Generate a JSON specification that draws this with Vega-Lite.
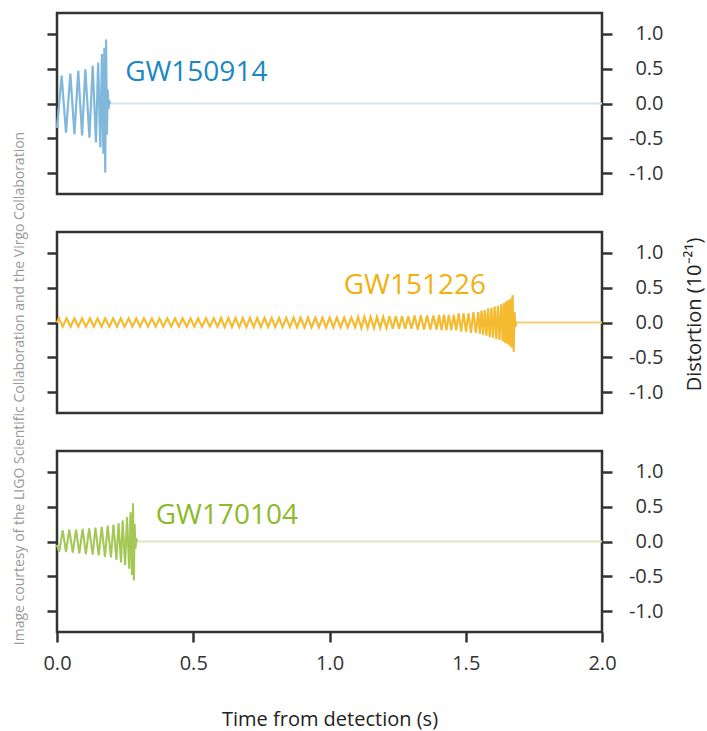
{
  "$schema": "https://vega.github.io/schema/vega-lite/v6.json",
  "padding": {"left": 10, "top": 11, "right": 0, "bottom": 0},
  "background": "white",
  "bounds": "flush",
  "spacing": 38,
  "config": {
    "view": {"stroke": "#333333", "strokeWidth": 2.5},
    "axis": {"tickColor": "#333333", "tickWidth": 2.5, "domain": false, "grid": false, "labelFont": "Open Sans", "labelFontSize": 20, "labelColor": "#333333", "titleFont": "Open Sans", "titleFontWeight": "normal", "titleFontSize": 20, "titleColor": "#222222", "labelFlush": false, "labelExpr": "replace(datum.label, '−', '-')"}
  },
  "datasets": {
    "w1": [{"t":0,"h":-0.35},{"t":0.017,"h":0.4},{"t":0.033,"h":-0.42},{"t":0.049,"h":0.43},{"t":0.064,"h":-0.44},{"t":0.078,"h":0.47},{"t":0.092,"h":-0.46},{"t":0.104,"h":0.49},{"t":0.119,"h":-0.49},{"t":0.131,"h":0.54},{"t":0.143,"h":-0.56},{"t":0.151,"h":0.59},{"t":0.159,"h":-0.63},{"t":0.165,"h":0.71},{"t":0.17,"h":-0.72},{"t":0.174,"h":0.8},{"t":0.177,"h":-0.99},{"t":0.18,"h":0.92},{"t":0.183,"h":-0.45},{"t":0.186,"h":0.2},{"t":0.189,"h":-0.08},{"t":0.192,"h":0.03},{"t":0.196,"h":0},{"t":2,"h":0}],
    "w2": [{"t":0,"h":0},
{"t":0.007,"h":0.06},{"t":0.021,"h":-0.06},{"t":0.035,"h":0.06},{"t":0.05,"h":-0.06},{"t":0.064,"h":0.06},{"t":0.078,"h":-0.06},{"t":0.092,"h":0.06},{"t":0.106,"h":-0.06},{"t":0.121,"h":0.06},{"t":0.135,"h":-0.06},{"t":0.149,"h":0.06},{"t":0.163,"h":-0.06},{"t":0.177,"h":0.06},{"t":0.192,"h":-0.06},{"t":0.206,"h":0.06},{"t":0.22,"h":-0.06},{"t":0.234,"h":0.06},{"t":0.248,"h":-0.06},{"t":0.263,"h":0.06},{"t":0.277,"h":-0.06},{"t":0.291,"h":0.06},{"t":0.305,"h":-0.06},{"t":0.319,"h":0.06},{"t":0.334,"h":-0.06},{"t":0.348,"h":0.06},{"t":0.362,"h":-0.06},{"t":0.376,"h":0.06},{"t":0.39,"h":-0.06},{"t":0.405,"h":0.06},{"t":0.419,"h":-0.06},{"t":0.433,"h":0.06},{"t":0.447,"h":-0.06},{"t":0.461,"h":0.06},{"t":0.476,"h":-0.06},{"t":0.49,"h":0.06},{"t":0.504,"h":-0.06},{"t":0.518,"h":0.06},{"t":0.532,"h":-0.06},{"t":0.547,"h":0.06},{"t":0.561,"h":-0.06},{"t":0.575,"h":0.06},{"t":0.589,"h":-0.06},
{"t":0.602,"h":0.065},{"t":0.615,"h":-0.065},{"t":0.629,"h":0.065},{"t":0.642,"h":-0.065},{"t":0.655,"h":0.065},{"t":0.669,"h":-0.065},{"t":0.682,"h":0.065},{"t":0.695,"h":-0.065},{"t":0.708,"h":0.065},{"t":0.722,"h":-0.065},{"t":0.735,"h":0.065},{"t":0.748,"h":-0.065},{"t":0.762,"h":0.065},{"t":0.775,"h":-0.065},{"t":0.788,"h":0.065},{"t":0.801,"h":-0.065},{"t":0.815,"h":0.065},{"t":0.828,"h":-0.065},{"t":0.841,"h":0.065},{"t":0.855,"h":-0.065},
{"t":0.868,"h":0.07},{"t":0.881,"h":-0.07},{"t":0.894,"h":0.07},{"t":0.908,"h":-0.07},{"t":0.921,"h":0.07},{"t":0.934,"h":-0.07},{"t":0.948,"h":0.07},{"t":0.961,"h":-0.07},{"t":0.974,"h":0.07},{"t":0.987,"h":-0.07},{"t":1.001,"h":0.07},{"t":1.014,"h":-0.07},{"t":1.027,"h":0.07},{"t":1.041,"h":-0.07},{"t":1.054,"h":0.07},{"t":1.067,"h":-0.07},{"t":1.08,"h":0.07},{"t":1.094,"h":-0.07},
{"t":1.105,"h":0.08},{"t":1.117,"h":-0.08},{"t":1.128,"h":0.08},{"t":1.14,"h":-0.08},{"t":1.151,"h":0.08},{"t":1.163,"h":-0.08},{"t":1.174,"h":0.08},{"t":1.186,"h":-0.08},{"t":1.197,"h":0.08},{"t":1.209,"h":-0.08},
{"t":1.22,"h":0.09},{"t":1.232,"h":-0.09},{"t":1.243,"h":0.09},{"t":1.255,"h":-0.09},{"t":1.266,"h":0.09},{"t":1.278,"h":-0.09},{"t":1.289,"h":0.09},{"t":1.301,"h":-0.09},
{"t":1.312,"h":0.1},{"t":1.324,"h":-0.1},{"t":1.335,"h":0.1},{"t":1.347,"h":-0.1},{"t":1.358,"h":0.1},{"t":1.37,"h":-0.1},{"t":1.381,"h":0.1},{"t":1.393,"h":-0.1},
{"t":1.402,"h":0.11},{"t":1.411,"h":-0.11},{"t":1.42,"h":0.11},{"t":1.429,"h":-0.11},{"t":1.438,"h":0.11},{"t":1.447,"h":-0.11},{"t":1.456,"h":0.11},{"t":1.465,"h":-0.11},
{"t":1.474,"h":0.13},{"t":1.483,"h":-0.13},{"t":1.492,"h":0.13},{"t":1.501,"h":-0.13},{"t":1.51,"h":0.13},
{"t":1.519,"h":-0.15},{"t":1.528,"h":0.15},{"t":1.537,"h":-0.15},{"t":1.546,"h":0.15},
{"t":1.552,"h":-0.16},{"t":1.558,"h":0.17},{"t":1.564,"h":-0.18},{"t":1.57,"h":0.18},{"t":1.576,"h":-0.19},{"t":1.582,"h":0.2},{"t":1.588,"h":-0.21},{"t":1.594,"h":0.21},{"t":1.6,"h":-0.22},{"t":1.606,"h":0.23},{"t":1.612,"h":-0.24},{"t":1.618,"h":0.24},{"t":1.624,"h":-0.25},{"t":1.63,"h":0.26},{"t":1.636,"h":-0.27},
{"t":1.64,"h":0.28},{"t":1.644,"h":-0.29},{"t":1.648,"h":0.3},{"t":1.652,"h":-0.31},{"t":1.656,"h":0.32},{"t":1.66,"h":-0.33},{"t":1.664,"h":0.34},{"t":1.668,"h":-0.36},{"t":1.672,"h":0.39},{"t":1.676,"h":-0.42},{"t":1.679,"h":0.15},{"t":1.682,"h":-0.06},{"t":1.686,"h":0},{"t":2,"h":0}],
    "w3": [{"t":0,"h":-0.05},{"t":0.008,"h":-0.15},{"t":0.021,"h":0.16},{"t":0.033,"h":-0.15},{"t":0.045,"h":0.17},{"t":0.058,"h":-0.16},{"t":0.07,"h":0.17},{"t":0.082,"h":-0.17},{"t":0.094,"h":0.18},{"t":0.106,"h":-0.18},{"t":0.118,"h":0.19},{"t":0.131,"h":-0.19},{"t":0.141,"h":0.2},{"t":0.153,"h":-0.2},{"t":0.164,"h":0.21},{"t":0.176,"h":-0.22},{"t":0.186,"h":0.23},{"t":0.198,"h":-0.23},{"t":0.207,"h":0.24},{"t":0.218,"h":-0.26},{"t":0.226,"h":0.26},{"t":0.235,"h":-0.3},{"t":0.241,"h":0.3},{"t":0.25,"h":-0.34},{"t":0.257,"h":0.35},{"t":0.265,"h":-0.39},{"t":0.27,"h":0.42},{"t":0.275,"h":-0.48},{"t":0.279,"h":0.55},{"t":0.282,"h":-0.56},{"t":0.285,"h":0.25},{"t":0.288,"h":-0.1},{"t":0.291,"h":0.03},{"t":0.295,"h":0},{"t":2,"h":0}],
    "labels": [{"panel":1,"t":0.25,"h":0.445,"label":"GW150914"},{"panel":2,"t":1.052,"h":0.53,"label":"GW151226"},{"panel":3,"t":0.362,"h":0.37,"label":"GW170104"}]
  },
  "vconcat": [
    {
      "width": 545, "height": 181,
      "layer": [
        {"data": {"name": "w1"}, "mark": {"type": "line", "color": "#d2e5f1", "strokeWidth": 2},
         "encoding": {
           "x": {"field": "t", "type": "quantitative", "scale": {"domain": [0, 2], "nice": false}, "axis": null},
           "y": {"field": "h", "type": "quantitative", "scale": {"domain": [-1.3, 1.3], "nice": false, "zero": false}, "axis": {"orient": "left", "values": [-1, -0.5, 0, 0.5, 1], "labels": false, "title": null, "tickSize": 10}}}},
        {"data": {"name": "w1"}, "transform": [{"filter": "datum.t < 0.2"}], "mark": {"type": "line", "color": "#3a93c9", "strokeWidth": 2.2, "opacity": 0.55},
         "encoding": {
           "x": {"field": "t", "type": "quantitative", "scale": {"domain": [0, 2], "nice": false}, "axis": null},
           "y": {"field": "h", "type": "quantitative", "scale": {"domain": [-1.3, 1.3], "nice": false, "zero": false}, "axis": {"orient": "right", "values": [-1, -0.5, 0, 0.5, 1], "format": ".1f", "labelAlign": "right", "labelPadding": 51, "title": null, "tickSize": 10}}}},
        {"data": {"name": "labels"}, "transform": [{"filter": "datum.panel == 1"}], "mark": {"type": "text", "color": "#1b87c3", "font": "Open Sans", "fontSize": 28, "align": "left", "baseline": "middle"},
         "encoding": {
           "x": {"field": "t", "type": "quantitative", "scale": {"domain": [0, 2], "nice": false}, "axis": null},
           "y": {"field": "h", "type": "quantitative", "scale": {"domain": [-1.3, 1.3], "nice": false, "zero": false}, "axis": null},
           "text": {"field": "label"}}}
      ],
      "resolve": {"axis": {"x": "independent", "y": "independent"}}
    },
    {
      "width": 545, "height": 181,
      "layer": [
        {"data": {"name": "w2"}, "mark": {"type": "line", "color": "#f8cf72", "strokeWidth": 2},
         "encoding": {
           "x": {"field": "t", "type": "quantitative", "scale": {"domain": [0, 2], "nice": false}, "axis": null},
           "y": {"field": "h", "type": "quantitative", "scale": {"domain": [-1.3, 1.3], "nice": false, "zero": false}, "axis": {"orient": "left", "values": [-1, -0.5, 0, 0.5, 1], "labels": false, "tickSize": 10, "title": "Image courtesy of the LIGO Scientific Collaboration and the Virgo Collaboration", "titleFontSize": 14, "titleColor": "#9a9a9a", "titleX": -31, "titleY": 156, "titleAngle": 270}}}},
        {"data": {"name": "w2"}, "transform": [{"filter": "datum.t < 1.69"}], "mark": {"type": "line", "color": "#f3b41c", "strokeWidth": 2, "opacity": 0.75},
         "encoding": {
           "x": {"field": "t", "type": "quantitative", "scale": {"domain": [0, 2], "nice": false}, "axis": null},
           "y": {"field": "h", "type": "quantitative", "scale": {"domain": [-1.3, 1.3], "nice": false, "zero": false}, "axis": {"orient": "right", "values": [-1, -0.5, 0, 0.5, 1], "format": ".1f", "labelAlign": "right", "labelPadding": 51, "tickSize": 10, "title": "Distortion (10⁻²¹)", "titleAngle": 270, "titleBaseline": "top", "titlePadding": 21, "titleFontSize": 20, "titleY": 82}}}},
        {"data": {"name": "labels"}, "transform": [{"filter": "datum.panel == 2"}], "mark": {"type": "text", "color": "#f0b10f", "font": "Open Sans", "fontSize": 28, "align": "left", "baseline": "middle"},
         "encoding": {
           "x": {"field": "t", "type": "quantitative", "scale": {"domain": [0, 2], "nice": false}, "axis": null},
           "y": {"field": "h", "type": "quantitative", "scale": {"domain": [-1.3, 1.3], "nice": false, "zero": false}, "axis": null},
           "text": {"field": "label"}}}
      ],
      "resolve": {"axis": {"x": "independent", "y": "independent"}}
    },
    {
      "width": 545, "height": 181,
      "layer": [
        {"data": {"name": "w3"}, "mark": {"type": "line", "color": "#dde8bf", "strokeWidth": 2},
         "encoding": {
           "x": {"field": "t", "type": "quantitative", "scale": {"domain": [0, 2], "nice": false}, "axis": {"orient": "bottom", "values": [0, 0.5, 1, 1.5, 2], "format": ".1f", "tickSize": 10, "labelPadding": 11, "title": "Time from detection (s)", "titlePadding": 36}},
           "y": {"field": "h", "type": "quantitative", "scale": {"domain": [-1.3, 1.3], "nice": false, "zero": false}, "axis": {"orient": "left", "values": [-1, -0.5, 0, 0.5, 1], "labels": false, "title": null, "tickSize": 10}}}},
        {"data": {"name": "w3"}, "transform": [{"filter": "datum.t < 0.3"}], "mark": {"type": "line", "color": "#8cba2a", "strokeWidth": 2, "opacity": 0.7},
         "encoding": {
           "x": {"field": "t", "type": "quantitative", "scale": {"domain": [0, 2], "nice": false}, "axis": null},
           "y": {"field": "h", "type": "quantitative", "scale": {"domain": [-1.3, 1.3], "nice": false, "zero": false}, "axis": {"orient": "right", "values": [-1, -0.5, 0, 0.5, 1], "format": ".1f", "labelAlign": "right", "labelPadding": 51, "title": null, "tickSize": 10}}}},
        {"data": {"name": "labels"}, "transform": [{"filter": "datum.panel == 3"}], "mark": {"type": "text", "color": "#8cba2a", "font": "Open Sans", "fontSize": 28, "align": "left", "baseline": "middle"},
         "encoding": {
           "x": {"field": "t", "type": "quantitative", "scale": {"domain": [0, 2], "nice": false}, "axis": null},
           "y": {"field": "h", "type": "quantitative", "scale": {"domain": [-1.3, 1.3], "nice": false, "zero": false}, "axis": null},
           "text": {"field": "label"}}}
      ],
      "resolve": {"axis": {"x": "independent", "y": "independent"}}
    }
  ]
}
